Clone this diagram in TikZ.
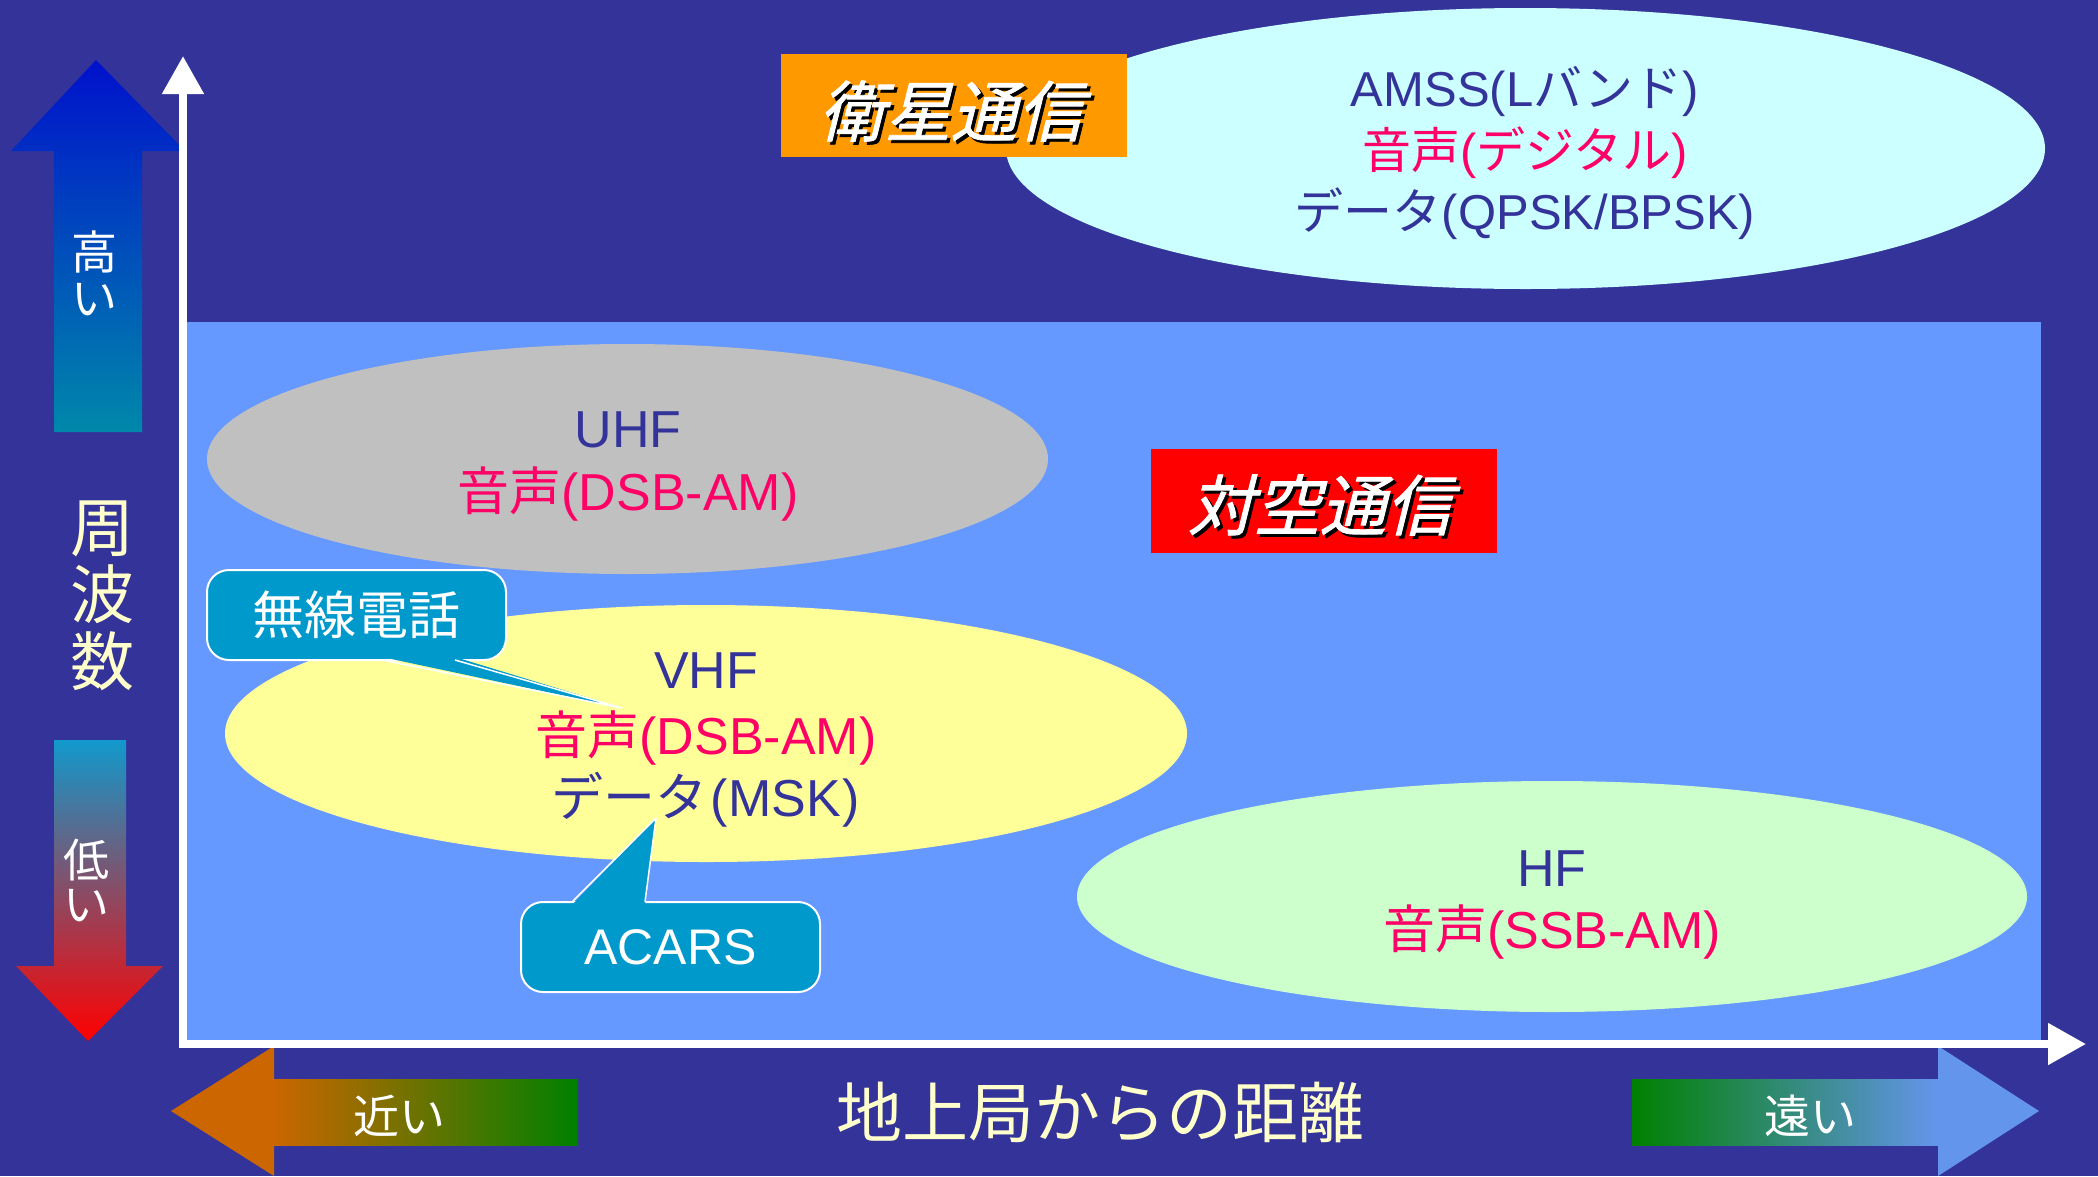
\documentclass[tikz,border=0pt]{standalone}
\usepackage{fontspec}
\setmainfont{Liberation Sans}
\newfontfamily\jp{Noto Sans CJK JP}
\newfontfamily\jpsl[FakeSlant=0.25,FakeBold=1.2]{Noto Sans CJK JP}
\usetikzlibrary{arrows.meta}
\definecolor{bgblue}{HTML}{333399}
\definecolor{skyblue}{HTML}{6699FF}
\definecolor{amssfill}{HTML}{CCFFFF}
\definecolor{uhffill}{HTML}{C0C0C0}
\definecolor{vhffill}{HTML}{FFFF99}
\definecolor{hffill}{HTML}{CCFFCC}
\definecolor{navytxt}{HTML}{333399}
\definecolor{redtxt}{HTML}{FF0066}
\definecolor{callblue}{HTML}{0099CC}
\definecolor{bannerorange}{HTML}{FF9900}
\definecolor{bannerred}{HTML}{FF0000}
\definecolor{cream}{HTML}{FFFFCC}
\definecolor{hiblue}{HTML}{0011CC}
\definecolor{hiteal}{HTML}{0088AA}
\definecolor{locyan}{HTML}{1199CC}
\definecolor{lomid}{HTML}{B07898}
\definecolor{lored}{HTML}{FF0000}
\definecolor{nearorange}{HTML}{CC6600}
\definecolor{midgreen}{HTML}{008000}
\definecolor{farblue}{HTML}{6495ED}
\tikzset{
  ovaltext/.style={anchor=base, inner sep=0pt, font=\fontsize{49}{58}\selectfont},
  bigovaltext/.style={anchor=base, inner sep=0pt, font=\fontsize{52}{60}\selectfont},
  calloutbox/.style={fill=callblue, draw=white, line width=2pt, rounded corners=22pt, inner sep=0pt, minimum width=299pt, minimum height=90pt, text=white},
  wedgeline/.style={draw=white, line width=1.5pt, line join=round},
  bannertext/.style={font=\jpsl\fontsize{66}{70}\selectfont, inner sep=0pt},
  axisline/.style={draw=white, line width=8pt, {Triangle[length=38pt,width=40pt]}-{Triangle[length=38pt,width=40pt]}},
  sidetext/.style={align=center, inner sep=0pt},
}
\begin{document}
\begin{tikzpicture}[x=1pt,y=-1pt]
\useasboundingbox (0,0) rectangle (2098,1176);
\clip (0,0) rectangle (2098,1176);
\fill[bgblue] (0,0) rectangle (2098,1176);
\fill[skyblue] (187,322) rectangle (2041,1041);

% ellipses
\fill[amssfill] (1525.5,148.5) ellipse [x radius=519.5pt, y radius=140.5pt];
\fill[uhffill] (627.5,459) ellipse [x radius=420.5pt, y radius=115pt];
\fill[vhffill] (706,733.5) ellipse [x radius=481pt, y radius=128.5pt];
\fill[hffill] (1552,896.5) ellipse [x radius=475pt, y radius=115.5pt];

% AMSS texts
\node[ovaltext, text=navytxt] (amss1) at (1525,106) {AMSS(L{\jp バンド})};
\node[ovaltext, text=redtxt] (amss2) at (1525,168) {{\jp 音声}({\jp デジタル})};
\node[ovaltext, text=navytxt] (amss3) at (1525,229) {{\jp データ}(QPSK/BPSK)};

% UHF
\node[bigovaltext, text=navytxt] (uhf1) at (628,447) {UHF};
\node[bigovaltext, text=redtxt] (uhf2) at (628,510) {{\jp 音声}(DSB-AM)};

% VHF
\node[bigovaltext, text=navytxt] (vhf1) at (706,688) {VHF};
\node[bigovaltext, text=redtxt] (vhf2) at (706,754) {{\jp 音声}(DSB-AM)};
\node[bigovaltext, text=navytxt] (vhf3) at (706,816) {{\jp データ}\kern3pt(MSK\kern2pt)};

% HF
\node[bigovaltext, text=navytxt] (hf1) at (1552,886) {HF};
\node[bigovaltext, text=redtxt] (hf2) at (1552,948) {{\jp 音声}(SSB-AM)};

% banners
\fill[bannerorange] (781,54) rectangle (1127,157);
\node[bannertext, text=black] (satshadow) at (954,114) {衛星通信};
\node[bannertext, text=white] (sat) at (951,111) {衛星通信};
\fill[bannerred] (1151,449) rectangle (1497,553);
\node[bannertext, text=black] (airshadow) at (1323,508) {対空通信};
\node[bannertext, text=white] (air) at (1320,505) {対空通信};

% callouts
\node[calloutbox, font=\jp\fontsize{52}{60}\selectfont] (radio) at (356.5,615) {無線電話};
\coordinate (radiotip) at (622,708);
\fill[callblue] (382,657) -- (radiotip) -- (455,657) -- cycle;
\draw[wedgeline] (382,660) -- (radiotip) -- (455,660);

\node[calloutbox, font=\fontsize{50}{60}\selectfont] (acars) at (670.5,947) {ACARS};
\coordinate (acarstip) at (656,818);
\fill[callblue] (572,905) -- (acarstip) -- (645,905) -- cycle;
\draw[wedgeline] (572,902) -- (acarstip) -- (645,902);

% left arrows
\shade[top color=hiblue, bottom color=hiteal] (96,60) -- (185,151) -- (142,151) -- (142,432) -- (54,432) -- (54,151) -- (11,151) -- cycle;
\shade[top color=locyan, middle color=lomid, bottom color=lored] (54,740) -- (126,740) -- (126,966) -- (163,966) -- (88,1041) -- (16,966) -- (54,966) -- cycle;
\node[sidetext, text=white, font=\jp\fontsize{46}{46}\selectfont] (high) at (94,273) {高\\い};
\node[sidetext, text=cream, font=\jp\fontsize{64}{67}\selectfont] (freq) at (102,596) {周\\波\\数};
\node[sidetext, text=white, font=\jp\fontsize{46}{44}\selectfont] (low) at (86,880) {低\\い};

% bottom arrows
\fill[nearorange] (171,1111) -- (274,1046) -- (274,1176) -- cycle;
\shade[left color=nearorange, right color=midgreen] (273,1079) rectangle (578,1145);
\shade[left color=midgreen, right color=farblue] (1632,1079) rectangle (1939,1145);
\fill[farblue] (1938,1046) -- (2039,1111) -- (1938,1176) -- cycle;
\node[text=white, inner sep=0pt, font=\jp\fontsize{46}{50}\selectfont] (near) at (399,1116) {近い};
\node[text=white, inner sep=0pt, font=\jp\fontsize{46}{50}\selectfont] (far) at (1810,1116) {遠い};
\node[text=cream, inner sep=0pt, font=\jp\fontsize{66}{70}\selectfont] (dist) at (1100,1112) {地上局からの距離};

% axes
\coordinate (origin) at (183,1044);
\coordinate (ytip) at (183,56);
\coordinate (xtip) at (2086,1044);
\draw[axisline] (ytip) -- (origin) -- (xtip);
\end{tikzpicture}
\end{document}
